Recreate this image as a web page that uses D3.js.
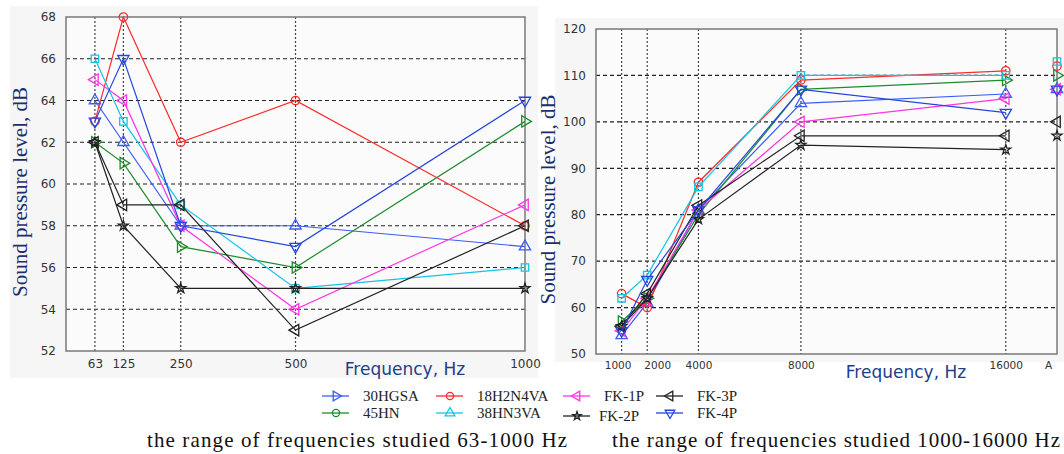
<!DOCTYPE html>
<html>
<head>
<meta charset="utf-8">
<script src="https://cdn.jsdelivr.net/npm/d3@7"></script>
<style>
  body { margin: 0; background: #fff; }
  svg { display: block; }
</style>
</head>
<body>
<div id="chart"></div>
<script>
// data
const seriesNames = ['30HGSA', '45HN', '18H2N4VA', '38HN3VA', 'FK-1P', 'FK-2P', 'FK-3P', 'FK-4P'];
const lowFreqs = [63, 125, 250, 500, 1000];
const highFreqs = [1000, 2000, 4000, 8000, 16000];
const lowValues = [
    [64, 62, 58, 58, 57],
    [62, 61, 57, 56, 63],
    [63, 68, 62, 64, 58],
    [66, 63, 59, 55, 56],
    [65, 64, 58, 54, 59],
    [62, 58, 55, 55, 55],
    [62, 59, 59, 53, 58],
    [63, 66, 58, 57, 64]
];
const highValues = [
    [54, 61, 81, 104, 106],
    [57, 62, 80, 107, 109],
    [63, 60, 87, 109, 111],
    [62, 67, 86, 110, 110],
    [55, 62, 81, 100, 105],
    [56, 62, 79, 95, 94],
    [56, 63, 82, 97, 97],
    [55, 66, 81, 107, 102]
];
const aValues = [107, 110, 112, 113, 107, 97, 100, 107];
const lowYTicks = [52, 54, 56, 58, 60, 62, 64, 66, 68];
const highYTicks = [50, 60, 70, 80, 90, 100, 110, 120];
const highXTicks = [1000, 2000, 4000, 8000, 16000];
const captions = ['the range of frequencies studied  63-1000 Hz', 'the range of frequencies studied 1000-16000 Hz'];

// styles
const colors = ['#3a5cf5', '#1c8c2c', '#ff2a2a', '#12c4e4', '#ff36e6', '#222', '#222', '#2544e0'];
const plotShape = ['up', 'right', 'circle', 'square', 'left', 'star', 'left', 'down'];
const legendShape = ['right', 'circle', 'circle', 'up', 'left', 'star', 'left', 'down'];

const W = 1064, H = 454;
const svg = d3.select('#chart').append('svg').attr('width', W).attr('height', H);

function marker(sel, shape, color, size) {
    const types = { up: d3.symbolTriangle, down: d3.symbolTriangle, left: d3.symbolTriangle, right: d3.symbolTriangle,
        circle: d3.symbolCircle, square: d3.symbolSquare, star: d3.symbolStar };
    const rot = { down: 180, left: -90, right: 90 };
    return sel.append('path')
        .attr('d', d3.symbol().type(types[shape]).size(shape === 'star' ? size * 0.55 : size)())
        .attr('transform', 'rotate(' + (rot[shape] || 0) + ')')
        .attr('fill', 'none')
        .attr('stroke', color)
        .attr('stroke-width', 1.3);
}

function drawPanel(opt) {
    const x = d3.scaleLinear().domain(opt.xDomain).range([opt.left, opt.right]);
    const y = d3.scaleLinear().domain(opt.yDomain).range([opt.bottom, opt.top]);
    const g = svg.append('g');

    g.append('rect')
        .attr('x', opt.bg[0]).attr('y', opt.bg[1]).attr('width', opt.bg[2]).attr('height', opt.bg[3])
        .attr('fill', '#f6f6f6');
    g.append('rect')
        .attr('x', opt.left).attr('y', opt.top)
        .attr('width', opt.right - opt.left).attr('height', opt.bottom - opt.top)
        .attr('fill', '#fbfbfb');

    // grid
    g.selectAll('.hgrid')
        .data(opt.yTicks.slice(1, -1))
        .join('line')
        .attr('x1', opt.left).attr('x2', opt.right)
        .attr('y1', d => y(d)).attr('y2', d => y(d))
        .attr('stroke', '#222').attr('stroke-width', 1.2).attr('stroke-dasharray', '4,3');
    g.selectAll('.vgrid')
        .data(opt.vGrid)
        .join('line')
        .attr('x1', d => x(d)).attr('x2', d => x(d))
        .attr('y1', opt.top).attr('y2', opt.bottom)
        .attr('stroke', '#444').attr('stroke-width', 1.2).attr('stroke-dasharray', '2,2');

    g.append('rect')
        .attr('x', opt.left).attr('y', opt.top)
        .attr('width', opt.right - opt.left).attr('height', opt.bottom - opt.top)
        .attr('fill', 'none').attr('stroke', '#7a7a7a').attr('stroke-width', 1.5);

    // axes (labels only)
    const yAxis = g.append('g')
        .attr('transform', 'translate(' + (opt.left - 4) + ',0)')
        .call(d3.axisLeft(y).tickValues(opt.yTicks).tickSize(0).tickPadding(6));
    yAxis.select('.domain').remove();
    yAxis.selectAll('text').style('font-family', 'DejaVu Sans').style('font-size', '12px').attr('fill', '#333');

    const xAxis = g.append('g')
        .attr('transform', 'translate(0,' + (opt.bottom + 2) + ')')
        .call(d3.axisBottom(x).tickValues(opt.xTicks).tickSize(0).tickPadding(6)
            .tickFormat((d, i) => opt.xTickText ? opt.xTickText[i] : d));
    xAxis.select('.domain').remove();
    xAxis.selectAll('text')
        .style('font-family', 'DejaVu Sans').style('font-size', opt.xFont).attr('fill', '#333')
        .attr('dx', (d, i) => opt.xTickShift ? opt.xTickShift[i] : 0);

    // lines + markers
    seriesNames.forEach((name, s) => {
        const pts = opt.freqs.map((f, i) => [f, opt.values[s][i]]);
        g.append('path')
            .datum(pts)
            .attr('fill', 'none')
            .attr('stroke', colors[s])
            .attr('stroke-width', 1.2)
            .attr('d', d3.line().x(d => x(d[0])).y(d => y(d[1])));
        if (opt.extra) pts.push([opt.extra.x, opt.extra.values[s]]);
        pts.forEach(p => {
            const m = g.append('g').attr('transform', 'translate(' + x(p[0]) + ',' + y(p[1]) + ')');
            marker(m, plotShape[s], colors[s], 55);
        });
    });

    // titles
    g.append('text')
        .attr('transform', 'translate(' + opt.yTitleX + ',' + ((opt.top + opt.bottom) / 2 + 8) + ') rotate(-90)')
        .attr('text-anchor', 'middle')
        .style('font-family', 'Liberation Serif')
        .style('font-size', '21px')
        .attr('fill', '#1b2f6e')
        .text('Sound pressure level, dB');
    g.append('text')
        .attr('x', opt.xTitleX).attr('y', opt.bottom + 24)
        .attr('text-anchor', 'middle')
        .style('font-family', 'DejaVu Sans')
        .style('font-size', '17px')
        .attr('fill', '#1d3f8a')
        .text('Frequency, Hz');
}

drawPanel({
    left: 66, right: 525, top: 17, bottom: 351,
    bg: [10, 6, 528, 372],
    xDomain: [0, 1000], yDomain: [52, 68],
    yTicks: lowYTicks, xTicks: lowFreqs, vGrid: lowFreqs.slice(0, 4), xFont: '12px',
    freqs: lowFreqs, values: lowValues,
    yTitleX: 27, xTitleX: 405
});

drawPanel({
    left: 596, right: 1057, top: 29, bottom: 354,
    bg: [555, 18, 509, 344],
    xDomain: [0, 18000], yDomain: [50, 120],
    yTicks: highYTicks, xTicks: highXTicks.concat([17650]), vGrid: highXTicks,
    xTickText: highXTicks.map(String).concat(['A']), xTickShift: [-4, 10, 0, 0, 0, 0], xFont: '10.5px',
    freqs: highFreqs, values: highValues,
    extra: { x: 18000, values: aValues },
    yTitleX: 555, xTitleX: 906
});

// legend
const legendCols = [322, 436, 563, 656];
const legend = svg.append('g');
seriesNames.forEach((name, s) => {
    const col = Math.floor(s / 2), row = s % 2;
    const gx = legendCols[col], gy = 396 + row * 17 + (name === 'FK-2P' ? 3 : 0);
    const item = legend.append('g').attr('transform', 'translate(' + gx + ',' + gy + ')');
    item.append('line').attr('x1', 0).attr('x2', 27).attr('stroke', colors[s]).attr('stroke-width', 1.3);
    const m = item.append('g').attr('transform', 'translate(14,0)');
    marker(m, legendShape[s], colors[s], 40);
    item.append('text')
        .attr('x', name === 'FK-2P' ? 36 : 41).attr('y', 5)
        .style('font-family', 'Liberation Serif')
        .style('font-size', '15px')
        .attr('fill', '#222')
        .text(name);
});

// captions
svg.selectAll('.caption')
    .data(captions)
    .join('text')
    .attr('x', (d, i) => i === 0 ? 147 : 612)
    .attr('y', 447)
    .attr('textLength', (d, i) => i === 0 ? 420 : 448)
    .attr('lengthAdjust', 'spacing')
    .style('font-family', 'Liberation Serif')
    .style('font-size', '21px')
    .attr('fill', '#111')
    .text(d => d);
</script>
</body>
</html>
